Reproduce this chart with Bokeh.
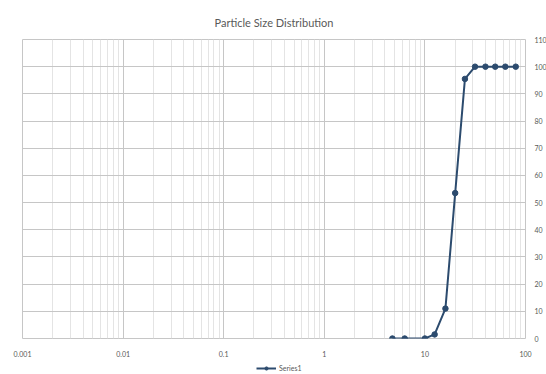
from bokeh.plotting import figure
from bokeh.layouts import column
from bokeh.models import FixedTicker, Range1d, Legend, LegendItem
from bokeh.embed import file_html
from bokeh.resources import INLINE

# Data
sizes = [4.75, 6.3, 10, 12.5, 16, 20, 25, 31.5, 40, 50, 63, 80]
passing = [0, 0, 0, 1.5, 11, 53.5, 95.5, 100, 100, 100, 100, 100]
series_name = "Series1"

x_ticks = [0.001, 0.01, 0.1, 1, 10, 100]
x_tick_labels = ["0.001", "0.01", "0.1", "1", "10", "100"]
y_ticks = [0, 10, 20, 30, 40, 50, 60, 70, 80, 90, 100, 110]

FONT = "Lato"
TXT = "#595959"
LINE = "#2C4B6E"

p = figure(
    x_axis_type="log",
    x_range=Range1d(0.001, 100),
    y_range=Range1d(0, 110),
    y_axis_location="right",
    frame_width=503,
    frame_height=299,
    min_border_left=22,
    min_border_right=20,
    min_border_top=39,
    min_border_bottom=17,
    output_backend="svg",
    toolbar_location=None,
    title="Particle Size Distribution",
)

p.title.align = "center"
p.title.text_font = FONT
p.title.text_font_size = "11px"
p.title.text_font_style = "normal"
p.title.text_color = TXT
p.title.standoff = 22

minor = [m * d for d in [0.001, 0.01, 0.1, 1, 10] for m in range(2, 10)]
p.xaxis.ticker = FixedTicker(ticks=x_ticks, minor_ticks=minor)
p.xaxis.major_label_overrides = {t: l for t, l in zip(x_ticks, x_tick_labels)}
p.yaxis.ticker = FixedTicker(ticks=y_ticks)

for ax in (p.xaxis, p.yaxis):
    ax.axis_line_color = None
    ax.major_tick_line_color = None
    ax.minor_tick_line_color = None
    ax.major_tick_out = 0
    ax.major_tick_in = 0
    ax.major_label_text_font = FONT
    ax.major_label_text_font_size = "7px"
    ax.major_label_text_color = TXT
p.xaxis.major_label_standoff = 8
p.yaxis.major_label_standoff = 9

p.xgrid.grid_line_color = "#C6C6C6"
p.xgrid.minor_grid_line_color = "#E4E4E4"
p.ygrid.grid_line_color = "#C6C6C6"
p.outline_line_color = "#C6C6C6"
p.background_fill_color = "white"
p.border_fill_color = "white"

p.line(sizes, passing, line_color=LINE, line_width=2)
p.scatter(sizes, passing, size=5.5, fill_color=LINE, line_color=LINE)

# legend strip below the chart (its renderers fall outside its view range)
lg = figure(
    width=546, height=15,
    x_range=Range1d(0, 1), y_range=Range1d(0, 1),
    x_axis_location=None, y_axis_location=None,
    min_border=0,
    output_backend="svg",
    toolbar_location=None,
)
lg.outline_line_color = None
lg.xgrid.visible = False
lg.ygrid.visible = False
lg.background_fill_color = "white"
lg.border_fill_color = "white"
k_line = lg.line(sizes, passing, line_color=LINE, line_width=2)
k_pts = lg.scatter(sizes, passing, size=5.5, fill_color=LINE, line_color=LINE)

legend = Legend(
    items=[LegendItem(label=series_name, renderers=[k_line, k_pts])],
    orientation="horizontal",
    location=(234, 2),
    border_line_color=None,
    background_fill_alpha=0,
    label_text_font=FONT,
    label_text_font_size="7px",
    label_text_color=TXT,
    glyph_width=20,
    glyph_height=8,
    label_height=8,
    padding=0,
    margin=0,
    spacing=0,
    label_standoff=3,
)
lg.add_layout(legend, "center")

layout = column(p, lg, spacing=0)
open("out.html", "w").write(file_html(layout, INLINE))
